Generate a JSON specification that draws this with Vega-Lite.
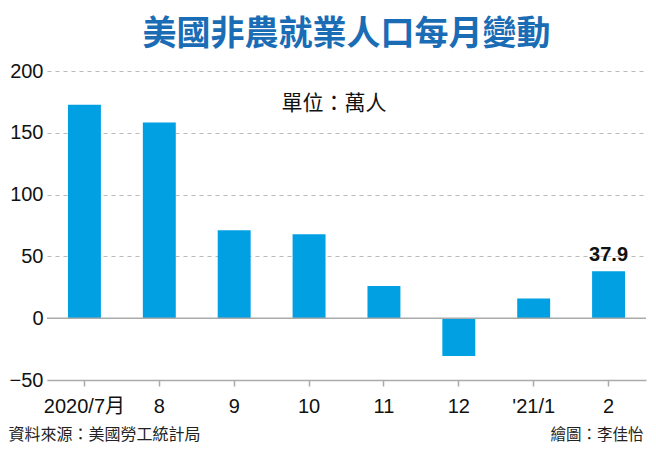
{
  "$schema": "https://vega.github.io/schema/vega-lite/v6.json",
  "width": 599,
  "height": 309,
  "autosize": {"type": "none"},
  "padding": {"left": 47, "top": 71, "right": 10, "bottom": 70},
  "background": "white",
  "title": {
    "text": "美國非農就業人口每月變動",
    "font": "Noto Sans CJK TC",
    "fontSize": 34,
    "fontWeight": "bold",
    "color": "#1a6db5",
    "anchor": "middle",
    "frame": "group",
    "offset": 9
  },
  "config": {
    "view": {"stroke": null},
    "font": "Liberation Sans Narrow, Liberation Sans, Noto Sans CJK TC"
  },
  "data": {
    "values": [
      {"month": "2020/7月", "value": 172.6, "label": ""},
      {"month": "8", "value": 158.3, "label": ""},
      {"month": "9", "value": 71.1, "label": ""},
      {"month": "10", "value": 68.0, "label": ""},
      {"month": "11", "value": 26.0, "label": ""},
      {"month": "12", "value": -30.6, "label": ""},
      {"month": "'21/1", "value": 16.0, "label": ""},
      {"month": "2", "value": 37.9, "label": "37.9"}
    ]
  },
  "layer": [
    {
      "mark": {"type": "bar", "color": "#00a0e2"},
      "encoding": {
        "x": {
          "field": "month",
          "type": "ordinal",
          "sort": null,
          "scale": {"paddingInner": 0.56, "paddingOuter": 0.28},
          "axis": {
            "labelAngle": 0,
            "labelFont": "Liberation Sans Narrow, Liberation Sans, Noto Sans CJK TC",
            "labelFontSize": 20,
            "labelColor": "#111",
            "labelPadding": 10,
            "domainColor": "#aaaaaa",
            "domainWidth": 1.5,
            "tickColor": "#aaaaaa",
            "tickWidth": 1.5,
            "tickSize": 6,
            "grid": false,
            "title": "資料來源：美國勞工統計局",
            "titleFont": "Noto Sans CJK TC",
            "titleFontSize": 16,
            "titleFontWeight": "normal",
            "titleColor": "#222",
            "titleAnchor": "start",
            "titleAlign": "left",
            "titleBaseline": "alphabetic",
            "titleX": -39,
            "titleY": 59
          }
        },
        "y": {
          "field": "value",
          "type": "quantitative",
          "scale": {"domain": [-50, 200], "nice": false, "zero": false},
          "axis": {
            "values": [-50, 0, 50, 100, 150, 200],
            "grid": true,
            "gridDash": [4, 4],
            "gridColor": "#bbbbbb",
            "gridWidth": 1,
            "domain": false,
            "ticks": false,
            "labelPadding": 4,
            "labelFont": "Liberation Sans Narrow, Liberation Sans",
            "labelFontSize": 20,
            "labelColor": "#111",
            "title": "繪圖：李佳怡",
            "titleFont": "Noto Sans CJK TC",
            "titleFontSize": 15.5,
            "titleFontWeight": "normal",
            "titleColor": "#222",
            "titleAngle": 0,
            "titleAlign": "right",
            "titleBaseline": "alphabetic",
            "titleX": 596,
            "titleY": 368
          }
        }
      }
    },
    {
      "data": {"values": [{}]},
      "mark": {"type": "rule", "color": "#aaaaaa", "strokeWidth": 1.5},
      "encoding": {"y": {"datum": 0}}
    },
    {
      "transform": [{"filter": "datum.label != ''"}],
      "mark": {"type": "text", "fontSize": 20, "fontWeight": "bold", "font": "Liberation Sans", "color": "#111", "baseline": "alphabetic", "dy": -10},
      "encoding": {
        "x": {"field": "month", "type": "ordinal", "sort": null},
        "y": {"field": "value", "type": "quantitative"},
        "text": {"field": "label"}
      }
    },
    {
      "data": {"values": [{"note": "單位：萬人"}]},
      "mark": {"type": "text", "fontSize": 21, "font": "Noto Sans CJK TC", "color": "#111", "baseline": "middle", "dx": 25},
      "encoding": {
        "x": {"datum": "10", "bandPosition": 0.5},
        "y": {"datum": 173},
        "text": {"field": "note"}
      }
    }
  ]
}
